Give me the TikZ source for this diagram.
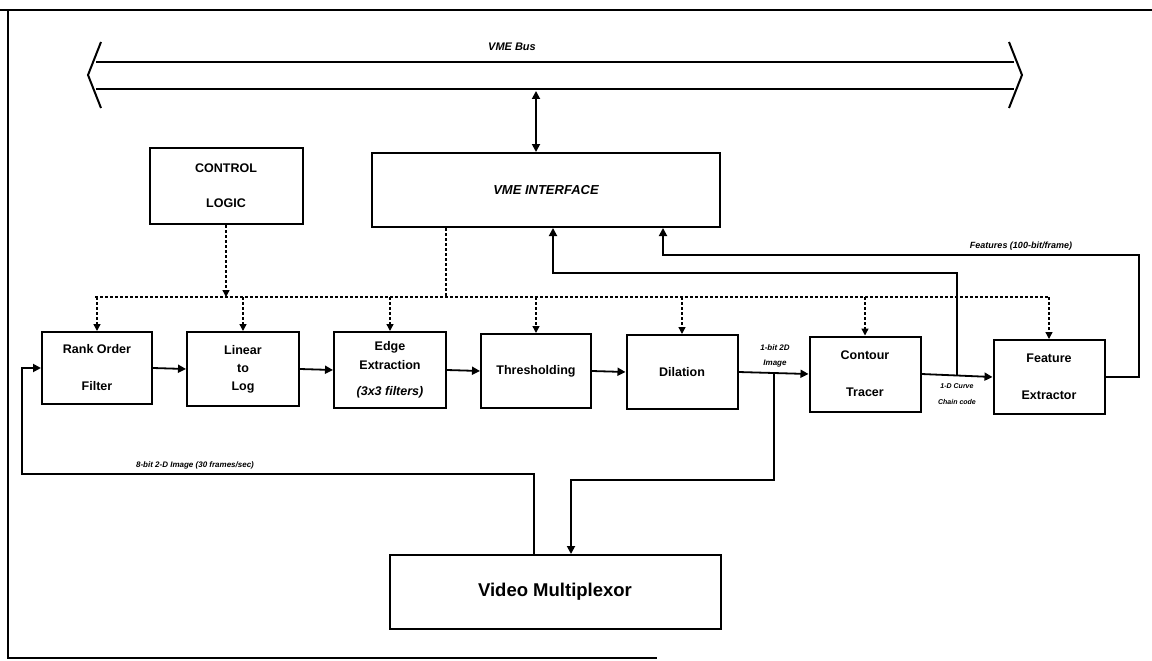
\documentclass[tikz,border=0pt]{standalone}
\usepackage{fontspec}
\setmainfont{Liberation Sans}
\usetikzlibrary{arrows.meta}

\begin{document}
\begin{tikzpicture}[x=1pt,y=-1pt,
  blk/.style={draw,line width=2pt,minimum width=111pt,minimum height=74pt,
              inner sep=2pt,align=center,font=\fontsize{12.5}{15}\selectfont\bfseries},
  bigblk/.style={blk,minimum width=331pt,font=\fontsize{18.5}{22}\selectfont\bfseries},
  lbl/.style={font=\fontsize{8}{10}\selectfont\bfseries\itshape,inner sep=1pt},
  arr/.style={line width=1.8pt,-{Triangle[length=8pt,width=8pt]}},
  ctl/.style={line width=1.4pt,dash pattern=on 3pt off 2pt,-{Triangle[length=7pt,width=7pt]}},
  ctlline/.style={line width=1.4pt,dash pattern=on 3pt off 2pt}]
\useasboundingbox (0,0) rectangle (1152,661);
% frame of the scanned page
\draw[line width=2.5pt] (0,10) -- (1152,10);
\draw[line width=1.8pt] (8,10) -- (8,658) -- (657,658);
% VME bus
\draw[line width=2.8pt] (96,62) -- (1014,62);
\draw[line width=2.8pt] (96,89) -- (1014,89);
\draw[line width=2pt] (101,42) -- (88,75) -- (101,108);
\draw[line width=2pt] (1009,42) -- (1022,75) -- (1009,108);
\node[font=\fontsize{11}{13}\selectfont\bfseries\itshape] (bus) at (512,47) {VME Bus};
\coordinate (busb) at (536,91);
% upper blocks
\node[blk,minimum width=153pt,minimum height=76pt] (ctrl) at (226,186) {CONTROL\\[20pt]LOGIC};
\node[blk,minimum width=348pt,font=\fontsize{13}{15}\selectfont\bfseries\itshape] (vmei) at (546,190) {VME INTERFACE};
% processing chain
\node[blk,minimum width=110pt,minimum height=72pt] (rank) at (97,368) {Rank Order\\[22pt]Filter};
\node[blk,minimum width=112pt] (lin)  at (243,369) {Linear\\[3pt]to\\[3pt]Log};
\node[blk,minimum width=112pt,minimum height=76pt] (edge) at (390,370) {Edge\\[4pt]Extraction\\[11pt]{\itshape (3x3 filters)}};
\node[blk,minimum width=110pt] (thr)  at (536,371) {Thresholding};
\node[blk] (dil)  at (682,372) {Dilation};
\node[blk,minimum height=75pt] (con)  at (865,374) {Contour\\[22pt]Tracer};
\node[blk] (feat) at (1049,377) {Feature\\[22pt]Extractor};
\node[bigblk] (vm) at (555,592) {Video Multiplexor};
% bus to interface
\draw[line width=1.8pt,{Triangle[length=8pt,width=8pt]}-{Triangle[length=8pt,width=8pt]}] (busb) -- (vmei.north -| busb);
% control lines
\coordinate (cbl) at (95,297);
\coordinate (cbr) at (1049,297);
\draw[ctlline] (cbl) -- (cbr);
\draw[ctl] (ctrl.south) -- (ctrl.south |- cbl);
\draw[ctlline] ([xshift=-100pt]vmei.south) -- ([xshift=-100pt]vmei.south |- cbl);
\foreach \b in {rank,lin,edge,thr,dil,con,feat}
  \draw[ctl] (\b.north |- cbl) -- (\b.north);
% data path
\draw[arr] (rank.east) -- (lin.west);
\draw[arr] (lin.east) -- (edge.west);
\draw[arr] (edge.east) -- (thr.west);
\draw[arr] (thr.east) -- (dil.west);
\draw[arr] (dil.east) -- (con.west);
\draw[arr] (con.east) -- (feat.west);
% video in
\coordinate (vin) at (22,474);
\draw[arr] ([xshift=-21pt]vm.north) |- (vin) |- (rank.west);
\node[lbl,anchor=south] (lbin) at (195,470) {8-bit 2-D Image (30 frames/sec)};
% binary image to multiplexor
\coordinate (b1) at (774,373);
\coordinate (b1d) at (774,480);
\draw[arr] (b1) -- (b1d) -| ([xshift=16pt]vm.north);
\node[lbl] (lbb) at (775,348) {1-bit 2D};
\node[lbl] (lbb2) at (775,364) {Image};
% curve to interface
\coordinate (b2) at (957,375);
\coordinate (b2u) at (957,273);
\draw[arr] (b2) -- (b2u) -| ([xshift=7pt]vmei.south);
\node[lbl,font=\fontsize{7}{9}\selectfont\bfseries\itshape] (lbc) at (957,386) {1-D Curve};
\node[lbl,font=\fontsize{7}{9}\selectfont\bfseries\itshape] (lbc2) at (957,402) {Chain code};
% features to interface
\coordinate (fo) at (1139,255);
\draw[arr] (feat.east) -| (fo) -| ([xshift=117pt]vmei.south);
\node[lbl,anchor=south,font=\fontsize{9}{11}\selectfont\bfseries\itshape] (lbf) at (1021,252) {Features (100-bit/frame)};
\end{tikzpicture}
\end{document}
